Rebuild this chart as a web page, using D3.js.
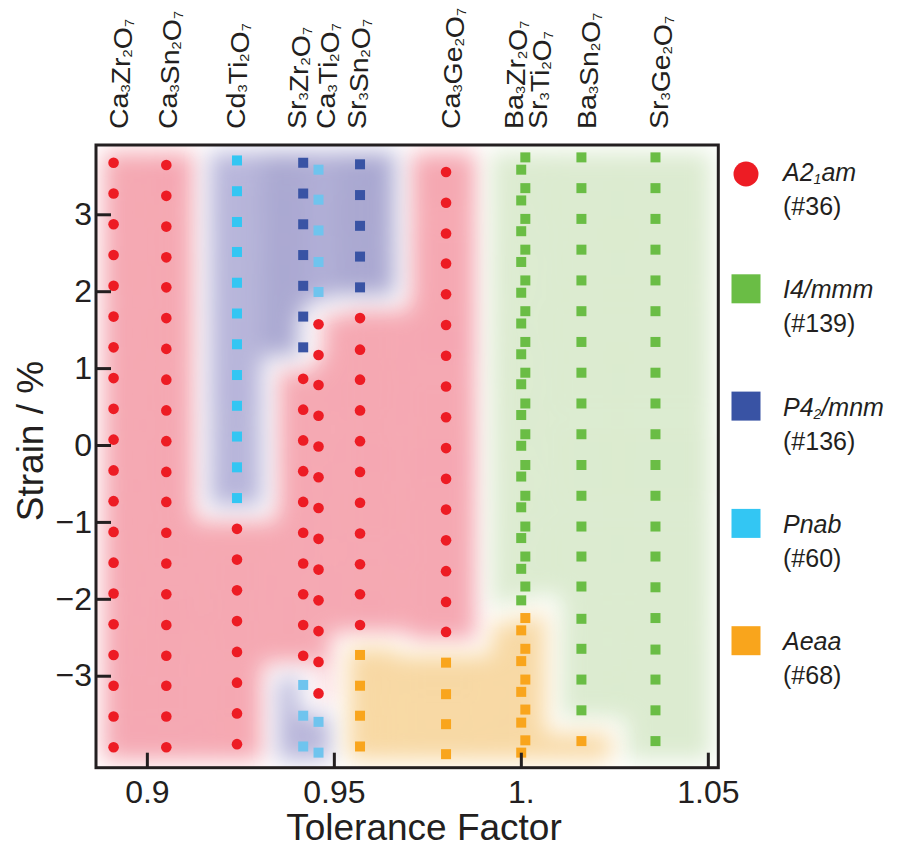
<!DOCTYPE html>
<html>
<head>
<meta charset="utf-8">
<script src="https://cdn.jsdelivr.net/npm/d3@7"></script>
<style>
body { margin: 0; background: #fff; }
svg { display: block; font-family: "Liberation Sans", Arial, Helvetica, sans-serif; }
</style>
</head>
<body>
<svg id="chart" width="902" height="848"></svg>
<script>
// compounds, in order of tolerance factor
var compounds = ["Ca3Zr2O7", "Ca3Sn2O7", "Cd3Ti2O7", "Sr3Zr2O7", "Ca3Ti2O7", "Sr3Sn2O7",
    "Ca3Ge2O7", "Ba3Zr2O7", "Sr3Ti2O7", "Ba3Sn2O7", "Sr3Ge2O7"];
var tolerance = [0.8911, 0.9052, 0.9241, 0.9418, 0.9459, 0.9570, 0.9800, 1.0001, 1.0012, 1.0162, 1.0360];

// strain (%) of every computed point, top to bottom, one list per compound
var strain = [
    [3.67, 3.27, 2.87, 2.47, 2.07, 1.67, 1.27, 0.87, 0.47, 0.07, -0.33, -0.73, -1.13, -1.53, -1.93, -2.33, -2.73, -3.13, -3.53, -3.93],
    [3.64, 3.24, 2.84, 2.44, 2.05, 1.65, 1.25, 0.85, 0.45, 0.05, -0.35, -0.74, -1.14, -1.54, -1.94, -2.34, -2.74, -3.13, -3.53, -3.93],
    [3.70, 3.30, 2.90, 2.51, 2.11, 1.71, 1.31, 0.91, 0.51, 0.11, -0.29, -0.69, -1.09, -1.49, -1.89, -2.29, -2.69, -3.09, -3.49, -3.89],
    [3.67, 3.27, 2.87, 2.47, 2.07, 1.67, 1.27, 0.86, 0.46, 0.06, -0.34, -0.74, -1.14, -1.54, -1.94, -2.34, -2.74, -3.12, -3.52, -3.92],
    [3.58, 3.19, 2.79, 2.38, 1.99, 1.57, 1.17, 0.78, 0.38, -0.02, -0.42, -0.82, -1.22, -1.62, -2.02, -2.42, -2.82, -3.23, -3.60, -4.00],
    [3.65, 3.25, 2.85, 2.45, 2.05, 1.65, 1.24, 0.85, 0.45, 0.05, -0.35, -0.75, -1.15, -1.55, -1.94, -2.34, -2.73, -3.13, -3.52, -3.92],
    [3.55, 3.15, 2.75, 2.36, 1.96, 1.56, 1.16, 0.76, 0.36, -0.04, -0.44, -0.84, -1.24, -1.64, -2.04, -2.43, -2.83, -3.24, -3.63, -4.02],
    [3.58, 3.18, 2.78, 2.38, 1.98, 1.58, 1.18, 0.79, 0.39, -0.01, -0.41, -0.81, -1.21, -1.61, -2.02, -2.41, -2.81, -3.21, -3.61, -4.00],
    [3.74, 3.34, 2.94, 2.54, 2.14, 1.74, 1.34, 0.94, 0.54, 0.14, -0.26, -0.66, -1.06, -1.45, -1.84, -2.25, -2.65, -3.05, -3.44, -3.84],
    [3.74, 3.34, 2.94, 2.54, 2.14, 1.74, 1.34, 0.94, 0.54, 0.14, -0.26, -0.66, -1.06, -1.45, -1.84, -2.26, -2.65, -3.05, -3.45, -3.85],
    [3.74, 3.34, 2.94, 2.54, 2.14, 1.74, 1.34, 0.94, 0.54, 0.14, -0.26, -0.66, -1.06, -1.45, -1.85, -2.25, -2.66, -3.05, -3.45, -3.85]
];

// ground-state phase of every point (A = A2_1am, I = I4/mmm, P = P4_2/mnm, N = Pnab, E = Aeaa)
var phases = [
    "AAAAAAAAAAAAAAAAAAAA",
    "AAAAAAAAAAAAAAAAAAAA",
    "NNNNNNNNNNNNAAAAAAAA",
    "PPPPPPPAAAAAAAAAANNN",
    "NNNNNAAAAAAAAAAAAANN",
    "PPPPPAAAAAAAAAAAEEEE",
    "AAAAAAAAAAAAAAAAEEEE",
    "IIIIIIIIIIIIIIIEEEEE",
    "IIIIIIIIIIIIIIIEEEEE",
    "IIIIIIIIIIIIIIIIIIIE",
    "IIIIIIIIIIIIIIIIIIII"
];

var phaseKeys = ["A", "I", "P", "N", "E"];
var phaseNames = [["A2", "1", "am"], ["I4/mmm", "", ""], ["P4", "2", "/mnm"], ["Pnab", "", ""], ["Aeaa", "", ""]];
var phaseNumbers = ["(#36)", "(#139)", "(#136)", "(#60)", "(#68)"];

var strainTicks = [-3, -2, -1, 0, 1, 2, 3];
var toleranceTicks = [0.9, 0.95, 1.0, 1.05];
var toleranceTickLabels = ["0.9", "0.95", "1.", "1.05"];

// styles
var markerColor = { A: "#ed1c24", I: "#6abd45", P: "#3953a4", N: "#33c6f3", E: "#f9a51c" };
var paleNColor = "#6fc4ee";
var paleCompounds = ["Sr3Zr2O7", "Ca3Ti2O7"];
var regionColor = { A: "#f5a8b2", I: "#dcebd0", P: "#aaa8d1", N: "#b8b6da", E: "#f8d9a4" };
var regionOf = { A: "A", I: "I", P: "P", N: "P", E: "E" };
var labelShift = [5, 2, -1, -6, 7, -3, 5, -7, 13, 6, 4];
var ink = "#231f20";

var plotLeft = 96, plotRight = 718.3, plotTop = 145, plotBottom = 767.7;

var xScale = d3.scaleLinear().domain([0.8864, 1.0528]).range([plotLeft, plotRight]);
var yScale = d3.scaleLinear().domain([3.901, -4.196]).range([plotTop, plotBottom]);

var svg = d3.select("#chart");

var defs = svg.append("defs");
defs.append("clipPath").attr("id", "plot-clip")
    .append("rect")
    .attr("x", plotLeft).attr("y", plotTop)
    .attr("width", plotRight - plotLeft).attr("height", plotBottom - plotTop);
var soft = defs.append("filter").attr("id", "soft")
    .attr("filterUnits", "userSpaceOnUse")
    .attr("x", 0).attr("y", 0).attr("width", 902).attr("height", 848);
soft.append("feMorphology").attr("operator", "erode").attr("radius", 8);
soft.append("feGaussianBlur").attr("stdDeviation", 11);

// flatten the points
var points = [];
compounds.forEach(function (c, i) {
    strain[i].forEach(function (s, j) {
        points.push({ compound: c, t: tolerance[i], s: s, phase: phases[i][j], index: points.length });
    });
});

// soft phase regions: voronoi cells of the points, eroded and blurred per phase
var delaunay = d3.Delaunay.from(points, function (d) { return xScale(d.t); }, function (d) { return yScale(d.s); });
var voronoi = delaunay.voronoi([plotLeft, plotTop, plotRight, plotBottom]);

var regions = svg.append("g").attr("clip-path", "url(#plot-clip)");
["A", "I", "P", "E"].forEach(function (key) {
    regions.append("g")
        .attr("filter", "url(#soft)")
        .selectAll("path")
        .data(points.filter(function (d) { return regionOf[d.phase] === key; }))
        .enter().append("path")
        .attr("d", function (d) { return voronoi.renderCell(d.index); })
        .attr("fill", function (d) { return regionColor[d.phase]; })
        .attr("stroke", function (d) { return regionColor[d.phase]; })
        .attr("stroke-width", 1);
});

// markers
function markerFill(d) {
    if (d.phase === "N" && paleCompounds.indexOf(d.compound) >= 0) return paleNColor;
    return markerColor[d.phase];
}
var marks = svg.append("g");
marks.selectAll("circle")
    .data(points.filter(function (d) { return d.phase === "A"; }))
    .enter().append("circle")
    .attr("cx", function (d) { return xScale(d.t); })
    .attr("cy", function (d) { return yScale(d.s); })
    .attr("r", 5.3)
    .style("fill", markerFill);
marks.selectAll("rect")
    .data(points.filter(function (d) { return d.phase !== "A"; }))
    .enter().append("rect")
    .attr("x", function (d) { return xScale(d.t) - 5; })
    .attr("y", function (d) { return yScale(d.s) - 5; })
    .attr("width", 10).attr("height", 10)
    .style("fill", markerFill);

// axes
var yAxis = d3.axisLeft(yScale).tickValues(strainTicks).tickSizeInner(-15).tickSizeOuter(0).tickPadding(4);
var xAxis = d3.axisBottom(xScale).tickValues(toleranceTicks)
    .tickFormat(function (d, i) { return toleranceTickLabels[i]; })
    .tickSizeInner(-15).tickSizeOuter(0).tickPadding(12.6);

var gy = svg.append("g").attr("transform", "translate(" + plotLeft + ",0)").call(yAxis);
var gx = svg.append("g").attr("transform", "translate(0," + plotBottom + ")").call(xAxis);
[gx, gy].forEach(function (g) {
    g.select(".domain").remove();
    g.selectAll(".tick line").attr("stroke", ink).attr("stroke-width", 3);
    g.selectAll(".tick text")
        .attr("fill", ink)
        .style("font-family", "'Liberation Sans', Arial, Helvetica, sans-serif")
        .style("font-size", "32px");
});

svg.append("rect")
    .attr("x", plotLeft).attr("y", plotTop)
    .attr("width", plotRight - plotLeft).attr("height", plotBottom - plotTop)
    .attr("fill", "none").attr("stroke", ink).attr("stroke-width", 3);

svg.append("text")
    .attr("x", 424).attr("y", 840)
    .attr("text-anchor", "middle")
    .style("font-size", "37px").attr("fill", ink)
    .text("Tolerance Factor");

svg.append("text")
    .attr("transform", "translate(43,441) rotate(-90)")
    .attr("text-anchor", "middle")
    .style("font-size", "37px").attr("fill", ink)
    .text("Strain / %");

// compound labels on top, digits as subscripts (stretched a little along the text)
compounds.forEach(function (c, i) {
    var cx = xScale(tolerance[i]) + labelShift[i];
    var label = svg.append("text")
        .attr("transform", "translate(" + (cx + 9) + ",129) rotate(-90) scale(1.12,1)")
        .style("font-size", "25.5px").attr("fill", ink);
    var parts = c.match(/[A-Z][a-z]?|\d/g);
    parts.forEach(function (p) {
        if (/\d/.test(p)) {
            label.append("tspan").attr("dy", 2).style("font-size", "13px").text(p);
            label.append("tspan").attr("dy", -2).text("");
        } else {
            label.append("tspan").text(p);
        }
    });
});

// legend
var legend = svg.append("g");
phaseKeys.forEach(function (key, i) {
    var base = 181 + i * 117.3;
    if (key === "A") {
        legend.append("circle").attr("cx", 746).attr("cy", base - 7).attr("r", 12.5).style("fill", markerColor[key]);
    } else {
        legend.append("rect").attr("x", 731.5).attr("y", base - 24).attr("width", 29).attr("height", 29)
            .style("fill", markerColor[key]);
    }
    var name = legend.append("text").attr("x", 783).attr("y", base)
        .style("font-size", "25px").style("font-style", "italic").attr("fill", ink);
    name.append("tspan").text(phaseNames[i][0]);
    if (phaseNames[i][1]) {
        name.append("tspan").attr("dy", 3).style("font-size", "14px").text(phaseNames[i][1]);
        name.append("tspan").attr("dy", -3).text(phaseNames[i][2]);
    }
    legend.append("text").attr("x", 783).attr("y", base + 34)
        .style("font-size", "25px").attr("fill", ink)
        .text(phaseNumbers[i]);
});
</script>
</body>
</html>
